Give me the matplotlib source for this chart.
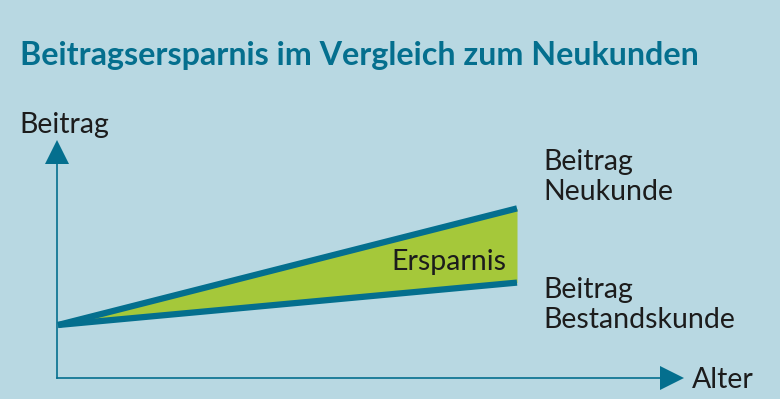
import matplotlib
matplotlib.use("Agg")
import matplotlib.pyplot as plt

# Data (schematic values)
alter = [0, 10]
beitrag_neukunde = [1.0, 3.2]
beitrag_bestand = [1.0, 1.8]

title = "Beitragsersparnis im Vergleich zum Neukunden"
label_neu = "Beitrag\nNeukunde"
label_bestand = "Beitrag\nBestandskunde"
label_fill = "Ersparnis"
ylabel = "Beitrag"
xlabel = "Alter"

bg = "#b8d8e2"
teal = "#046f8e"
green = "#a5c83a"
txt = "#1c1c1c"

W, H = 780, 399
fig = plt.figure(figsize=(W / 100, H / 100), dpi=100, facecolor=bg)
plt.rcParams['font.family'] = ['Lato', 'DejaVu Sans']


def fx(px):
    return px / W


def fy(py):
    return 1 - py / H


# axes box: left spine at x=57px, bottom spine at y=378px
x0, x1 = 57, 672
y0, y1 = 378, 152
ax = fig.add_axes([fx(x0), fy(y0), fx(x1) - fx(x0), fy(y1) - fy(y0)])
ax.set_facecolor(bg)
px_per_x = (517 - 58) / 10
px_per_y = 53
ax.set_xlim((x0 - 58) / px_per_x, (x1 - 58) / px_per_x)
ax.set_ylim(0, (y0 - y1) / px_per_y)

ax.fill_between(alter, beitrag_bestand, beitrag_neukunde, color=green, lw=0)
ax.plot(alter, beitrag_neukunde, color=teal, lw=4.5, solid_capstyle='butt')
ax.plot(alter, beitrag_bestand, color=teal, lw=4.5, solid_capstyle='butt')

for s in ['top', 'right']:
    ax.spines[s].set_visible(False)
for s in ['left', 'bottom']:
    ax.spines[s].set_color(teal)
    ax.spines[s].set_linewidth(1.2)
ax.set_xticks([])
ax.set_yticks([])

# arrow heads
ax.plot([0], [1], marker='^', color=teal, markersize=17, transform=ax.transAxes,
        clip_on=False, markeredgewidth=0)
ax.plot([1], [0], marker='>', color=teal, markersize=17, transform=ax.transAxes,
        clip_on=False, markeredgewidth=0)

fig.text(fx(20), fy(56), title, fontsize=23.2, fontweight='bold', color=teal,
         va='center', ha='left')
fig.text(fx(19), fy(125), ylabel, fontsize=20.5, color=txt, va='center', ha='left')
fig.text(fx(692), fy(380), xlabel, fontsize=20.5, color=txt, va='center', ha='left')
fig.text(fx(543), fy(177), label_neu, fontsize=20.5, color=txt, va='center', ha='left',
         linespacing=1.2)
fig.text(fx(543), fy(305), label_bestand, fontsize=20.5, color=txt, va='center', ha='left',
         linespacing=1.2)
fig.text(fx(391), fy(262), label_fill, fontsize=20.5, color=txt, va='center', ha='left')

fig.savefig("out.png", dpi=100, facecolor=bg)
